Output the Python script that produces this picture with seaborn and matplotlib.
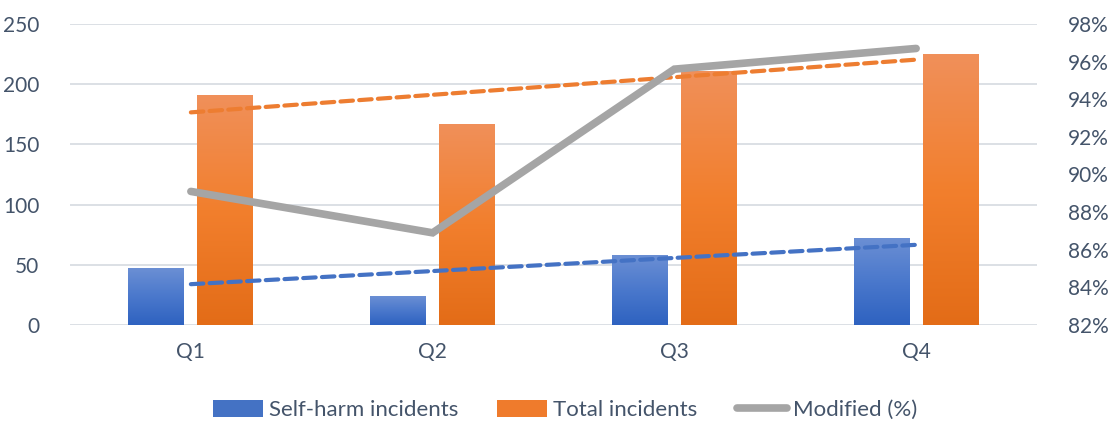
import numpy as np
import pandas as pd
import matplotlib
matplotlib.use("Agg")
import matplotlib.pyplot as plt
from matplotlib.colors import LinearSegmentedColormap
from matplotlib.lines import Line2D
from matplotlib.patches import Patch
import seaborn as sns

quarters = ["Q1", "Q2", "Q3", "Q4"]
self_harm = [47, 24, 58, 72]
total = [191, 167, 211, 225]
modified = [89.1, 86.9, 95.6, 96.7]
left_ticks = [0, 50, 100, 150, 200, 250]
right_ticks = [82, 84, 86, 88, 90, 92, 94, 96, 98]

sns.set_theme(style="white")
plt.rcParams['font.family'] = ['Lato', 'DejaVu Sans']

txt = "#44546a"
blue = "#4472c4"
orange = "#ed7d31"
gray = "#a5a5a5"

df = pd.DataFrame({
    "Quarter": quarters * 2,
    "Value": self_harm + total,
    "Series": ["Self-harm incidents"] * 4 + ["Total incidents"] * 4,
})

fig = plt.figure(figsize=(11.14, 4.21), dpi=100)
ax = fig.add_axes([70 / 1114, 96 / 421, (1037 - 70) / 1114, (325 - 24) / 421])

sns.barplot(data=df, x="Quarter", y="Value", hue="Series",
            palette=[blue, orange], width=0.571, gap=0.19,
            ax=ax, legend=False, saturation=1, zorder=2)

cm_blue = LinearSegmentedColormap.from_list("b", ["#2e62c0", "#4a78cc", "#6b8fd4"])
cm_orange = LinearSegmentedColormap.from_list("o", ["#e36c17", "#f27f2d", "#f0905a"])
grad = np.linspace(0, 1, 256).reshape(-1, 1)
for i, p in enumerate(ax.patches):
    if p.get_height() <= 0:
        continue
    x0, y0 = p.get_x(), p.get_y()
    w, h = p.get_width(), p.get_height()
    cmap = cm_blue if i < 4 else cm_orange
    im = ax.imshow(grad, cmap=cmap, aspect="auto", origin="lower",
                   extent=[x0, x0 + w, y0, y0 + h], zorder=2.1)
    im.set_clip_path(p)
    p.set_edgecolor("none")

xs = np.arange(len(quarters))
for vals, col in [(self_harm, blue), (total, orange)]:
    k, b = np.polyfit(xs, vals, 1)
    ax.plot(xs, k * xs + b, color=col, lw=3, ls=(0, (3, 1.5)),
            dash_capstyle="round", zorder=4)

ax.set_ylim(0, 250)
ax.set_xlim(-0.5, 3.5)
ax.set_yticks(left_ticks)
ax.yaxis.grid(True, color="#d9dde3", lw=1.3)
ax.set_axisbelow(True)
for s in ax.spines.values():
    s.set_visible(False)
ax.set_xlabel("")
ax.set_ylabel("")
ax.tick_params(axis="both", length=0, labelsize=15, labelcolor=txt)
ax.tick_params(axis="y", pad=22)
ax.tick_params(axis="x", pad=12)

ax2 = ax.twinx()
sns.lineplot(x=xs, y=modified, ax=ax2, color=gray, lw=5.5, zorder=3,
             solid_joinstyle="miter")
ax2.set_ylim(82, 98)
ax2.set_yticks(right_ticks)
ax2.set_yticklabels([f"{t}%" for t in right_ticks])
ax2.tick_params(axis="y", length=0, labelsize=15, labelcolor=txt, pad=22)
for s in ax2.spines.values():
    s.set_visible(False)
ax2.grid(False)
ax2.set_ylabel("")
ax2.set_zorder(ax.get_zorder() + 1)
ax2.patch.set_visible(False)

handles = [
    Patch(facecolor="#4472c4", edgecolor="none"),
    Patch(facecolor="#ef7b2c", edgecolor="none"),
    Line2D([0], [0], color=gray, lw=5.5, solid_capstyle="round"),
]
labels = ["Self-harm incidents", "Total incidents", "Modified (%)"]
fig.legend(handles, labels, loc="center", bbox_to_anchor=(565 / 1114, 1 - 410 / 421),
           ncol=3, frameon=False, fontsize=16, labelcolor=txt,
           handlelength=2.25, handleheight=0.8, handletextpad=0.27,
           columnspacing=1.75)

fig.savefig("out.png", dpi=100)
